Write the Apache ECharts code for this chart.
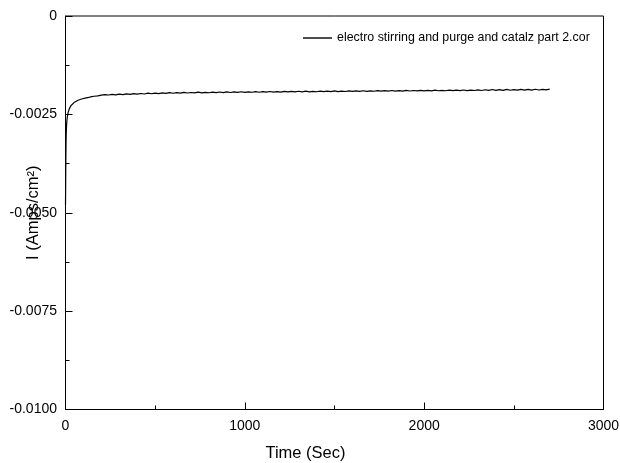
<!DOCTYPE html>
<html>
<head>
<meta charset="utf-8">
<script src="https://cdn.jsdelivr.net/npm/echarts@6/dist/echarts.min.js"></script>
<style>
  html, body { margin: 0; padding: 0; background: #fff; }
  #chart { width: 620px; height: 463px; }
</style>
</head>
<body>
<div id="chart"></div>
<script>
// Chronoamperometry trace: current density (A/cm²) against time (s)
const seriesName = 'electro stirring and purge and catalz part 2.cor';

// Initial transient
const earlyTime = [0, 1, 2, 3, 4, 5, 6, 8, 10, 12, 15, 18, 21, 25, 30, 35, 40, 50, 60, 70, 80, 90, 100, 115, 130, 145, 160, 180];
const earlyCurrent = [-0.00480, -0.00420, -0.00362, -0.00322, -0.00300, -0.00288, -0.00278, -0.00265, -0.00257, -0.00251, -0.00245, -0.00240, -0.00236, -0.00232, -0.00228, -0.00225, -0.00223, -0.00219, -0.00216, -0.00214, -0.00213, -0.00211, -0.00210, -0.00208, -0.00207, -0.00205, -0.00204, -0.00203];

// Quasi steady-state portion
const steadyTime = [
  200, 220, 240, 260, 280, 300, 320, 340, 360, 380, 400, 420, 440, 460, 480, 500, 520, 540, 560, 580,
  600, 620, 640, 660, 680, 700, 720, 740, 760, 780, 800, 820, 840, 860, 880, 900, 920, 940, 960, 980,
  1000, 1020, 1040, 1060, 1080, 1100, 1120, 1140, 1160, 1180, 1200, 1220, 1240, 1260, 1280, 1300, 1320, 1340, 1360, 1380,
  1400, 1420, 1440, 1460, 1480, 1500, 1520, 1540, 1560, 1580, 1600, 1620, 1640, 1660, 1680, 1700, 1720, 1740, 1760, 1780,
  1800, 1820, 1840, 1860, 1880, 1900, 1920, 1940, 1960, 1980, 2000, 2020, 2040, 2060, 2080, 2100, 2120, 2140, 2160, 2180,
  2200, 2220, 2240, 2260, 2280, 2300, 2320, 2340, 2360, 2380, 2400, 2420, 2440, 2460, 2480, 2500, 2520, 2540, 2560, 2580,
  2600, 2620, 2640, 2660, 2680, 2700
];
const steadyCurrent = [
  -0.002012, -0.001998, -0.002008, -0.001991, -0.002003, -0.001985, -0.001997, -0.001978, -0.001992, -0.001974,
  -0.001986, -0.001969, -0.001983, -0.001961, -0.001976, -0.001958, -0.001972, -0.001955, -0.001968, -0.001949,
  -0.001963, -0.001946, -0.001959, -0.001941, -0.001957, -0.001944, -0.001955, -0.001936, -0.001952, -0.001939,
  -0.001950, -0.001933, -0.001948, -0.001931, -0.001945, -0.001928, -0.001944, -0.001930, -0.001941, -0.001925,
  -0.001940, -0.001927, -0.001938, -0.001922, -0.001937, -0.001924, -0.001935, -0.001918, -0.001933, -0.001921,
  -0.001936, -0.001917, -0.001930, -0.001915, -0.001929, -0.001913, -0.001928, -0.001911, -0.001926, -0.001914,
  -0.001925, -0.001908, -0.001923, -0.001910, -0.001921, -0.001905, -0.001920, -0.001907, -0.001918, -0.001902,
  -0.001917, -0.001904, -0.001916, -0.001899, -0.001914, -0.001901, -0.001913, -0.001896, -0.001911, -0.001898,
  -0.001910, -0.001893, -0.001909, -0.001896, -0.001907, -0.001891, -0.001906, -0.001894, -0.001905, -0.001889,
  -0.001903, -0.001890, -0.001902, -0.001886, -0.001900, -0.001888, -0.001899, -0.001884, -0.001898, -0.001885,
  -0.001897, -0.001881, -0.001896, -0.001883, -0.001894, -0.001879, -0.001893, -0.001875, -0.001891, -0.001868,
  -0.001890, -0.001871, -0.001888, -0.001866, -0.001887, -0.001869, -0.001885, -0.001863, -0.001884, -0.001866,
  -0.001882, -0.001861, -0.001880, -0.001864, -0.001878, -0.001860
];

// Axis ranges and tick steps
const xRange = [0, 3000];
const xStep = 1000;
const yRange = [-0.0100, 0];
const yStep = 0.0025;

const points = [];
earlyTime.forEach((t, i) => points.push([t, earlyCurrent[i]]));
steadyTime.forEach((t, i) => points.push([t, steadyCurrent[i]]));

const font = "'Liberation Sans', Arial, sans-serif";
const chart = echarts.init(document.getElementById('chart'), null, { renderer: 'canvas' });

chart.setOption({
  animation: false,
  backgroundColor: '#ffffff',
  grid: {
    left: 65.5, top: 16, right: 16.5, bottom: 53.5,
    containLabel: false, outerBoundsMode: 'none',
    show: true, borderColor: '#000', borderWidth: 1, backgroundColor: 'transparent'
  },
  legend: {
    left: 298, top: 27,
    itemWidth: 29, itemHeight: 1.4, itemGap: 5,
    icon: 'rect',
    itemStyle: { color: '#000', borderWidth: 0 },
    textStyle: { fontFamily: font, fontSize: 12.4, color: '#000' },
    data: [seriesName]
  },
  xAxis: {
    type: 'value',
    min: xRange[0], max: xRange[1], interval: xStep,
    name: 'Time (Sec)', nameLocation: 'middle', nameGap: 35, nameMoveOverlap: false,
    nameTextStyle: { fontFamily: font, fontSize: 16.5, color: '#000', padding: [0, 58, 0, 0] },
    axisLine: { show: true, onZero: false, lineStyle: { color: '#000', width: 1 } },
    axisTick: { show: true, inside: true, length: 7, lineStyle: { color: '#000' } },
    minorTick: { show: true, splitNumber: 2, length: 4, lineStyle: { color: '#000' } },
    axisLabel: { fontFamily: font, fontSize: 14, color: '#000', margin: 10, formatter: v => String(v) },
    splitLine: { show: false }
  },
  yAxis: {
    type: 'value',
    min: yRange[0], max: yRange[1], interval: yStep,
    name: 'I (Amps/cm²)', nameLocation: 'middle', nameGap: 24, nameMoveOverlap: false,
    nameTextStyle: { fontFamily: font, fontSize: 16.5, color: '#000' },
    axisLine: { show: true, onZero: false, lineStyle: { color: '#000', width: 1 } },
    axisTick: { show: true, inside: true, length: 7, lineStyle: { color: '#000' } },
    minorTick: { show: true, splitNumber: 2, length: 4, lineStyle: { color: '#000' } },
    axisLabel: {
      fontFamily: font, fontSize: 14, color: '#000', margin: 8.5,
      formatter: v => (v === 0 ? '0' : v.toFixed(4))
    },
    splitLine: { show: false }
  },
  series: [{
    name: seriesName,
    type: 'line',
    data: points,
    symbol: 'none',
    lineStyle: { color: '#000', width: 1.2 },
    itemStyle: { color: '#000' }
  }]
});
</script>
</body>
</html>
